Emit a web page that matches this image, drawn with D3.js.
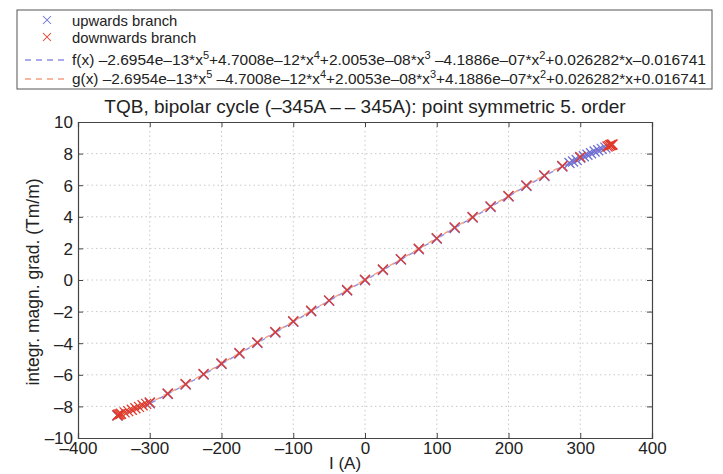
<!DOCTYPE html>
<html>
<head>
<meta charset="utf-8">
<script src="https://cdn.jsdelivr.net/npm/d3@7"></script>
<style>
  body { margin: 0; background: #fff; }
  svg { font-family: "Liberation Sans", Arial, sans-serif; }
  .grid line { stroke: #c8c8c8; stroke-dasharray: 1.5,3; }
</style>
</head>
<body>
<script>
// tick values
var xTicks = [-400, -300, -200, -100, 0, 100, 200, 300, 400];
var yTicks = [-10, -8, -6, -4, -2, 0, 2, 4, 6, 8, 10];

// upwards branch
var upX = [-345, -300, -275, -250, -225, -200, -175, -150, -125, -100, -75, -50, -25, 0,
           25, 50, 75, 100, 125, 150, 175, 200, 225, 250, 275, 285, 290, 295, 300, 305,
           310, 315, 320, 325, 330, 335];
var upY = [-8.58, -7.81, -7.22, -6.62, -5.99, -5.32, -4.66, -3.99, -3.33, -2.65, -1.98, -1.32, -0.66, -0.02,
           0.63, 1.29, 1.95, 2.61, 3.29, 3.95, 4.62, 5.29, 5.95, 6.58, 7.18, 7.40, 7.50, 7.60, 7.74, 7.83,
           7.93, 8.02, 8.13, 8.21, 8.30, 8.38];

// downwards branch
var downX = [345, 344, 343, 342, 340, 338, 300, 275, 250, 225, 200, 175, 150, 125, 100, 75, 50, 25, 0,
             -25, -50, -75, -100, -125, -150, -175, -200, -225, -250, -275, -300, -305, -310, -315,
             -320, -325, -330, -335, -340, -342, -344, -345];
var downY = [8.58, 8.56, 8.55, 8.53, 8.49, 8.45, 7.79, 7.22, 6.62, 5.99, 5.32, 4.66, 3.99, 3.33, 2.65, 1.98, 1.32, 0.66, 0.02,
             -0.63, -1.29, -1.95, -2.61, -3.29, -3.95, -4.62, -5.29, -5.95, -6.58, -7.18, -7.75, -7.84,
             -7.93, -8.03, -8.12, -8.21, -8.30, -8.38, -8.47, -8.50, -8.53, -8.56];

var width = 723, height = 474;
var margin = {top: 122, right: 71, bottom: 36, left: 78};
var w = width - margin.left - margin.right,
    h = height - margin.top - margin.bottom;

var blue = "#6f6fd4", red = "#e03a2c", fBlue = "#8d8de6", gOrange = "#f4a07f";

var svg = d3.select("body").append("svg")
    .attr("width", width)
    .attr("height", height);

var x = d3.scaleLinear().domain([-400, 400]).range([0, w]);
var y = d3.scaleLinear().domain([-10, 10]).range([h, 0]);

var g = svg.append("g")
    .attr("transform", "translate(" + margin.left + "," + margin.top + ")");

// dotted grid
var grid = g.append("g").attr("class", "grid");
grid.selectAll(".gx").data(xTicks.slice(1, -1)).enter().append("line")
    .attr("x1", x).attr("x2", x).attr("y1", 0).attr("y2", h);
grid.selectAll(".gy").data(yTicks.slice(1, -1)).enter().append("line")
    .attr("y1", y).attr("y2", y).attr("x1", 0).attr("x2", w);

function fmt(d) { return d < 0 ? "\u2013" + Math.abs(d) : String(d); }

// axes with inward ticks on all four sides
var axB = g.append("g").attr("transform", "translate(0," + h + ")")
    .call(d3.axisBottom(x).tickValues(xTicks).tickSize(-5).tickPadding(8).tickFormat(fmt));
var axT = g.append("g")
    .call(d3.axisTop(x).tickValues(xTicks).tickSize(-5).tickFormat(""));
var axL = g.append("g")
    .call(d3.axisLeft(y).tickValues(yTicks).tickSize(-5).tickPadding(5).tickFormat(fmt));
var axR = g.append("g").attr("transform", "translate(" + w + ",0)")
    .call(d3.axisRight(y).tickValues(yTicks).tickSize(-5).tickFormat(""));

[axB, axT, axL, axR].forEach(function(a) {
  a.select(".domain").attr("stroke", "#444").attr("stroke-width", 1.2);
  a.selectAll(".tick line").attr("stroke", "#444");
  a.selectAll("text").attr("font-size", 17).attr("fill", "#222")
    .attr("font-family", "Liberation Sans, Arial, sans-serif");
});
axB.selectAll("text").attr("dy", "0.45em");
axL.selectAll("text").attr("dy", "0.35em");

// fit lines through the branches
var upPts = upX.map(function(v, i) { return [v, upY[i]]; }).sort(function(a, b) { return a[0] - b[0]; });
var downPts = downX.map(function(v, i) { return [v, downY[i]]; }).sort(function(a, b) { return a[0] - b[0]; });

var line = d3.line()
    .x(function(d) { return x(d[0]); })
    .y(function(d) { return y(d[1]); })
    .curve(d3.curveMonotoneX);

g.append("path").datum(upPts)
    .attr("d", line).attr("fill", "none")
    .attr("stroke", fBlue).attr("stroke-width", 1.4).attr("stroke-dasharray", "5,4");
g.append("path").datum(downPts)
    .attr("d", line).attr("fill", "none")
    .attr("stroke", gOrange).attr("stroke-width", 1.4).attr("stroke-dasharray", "5,4")
    .attr("stroke-dashoffset", 4);

// x-shaped markers
function cross(sel, color) {
  var s = 5;
  sel.append("path")
    .attr("d", "M" + (-s) + "," + (-s) + "L" + s + "," + s + "M" + (-s) + "," + s + "L" + s + "," + (-s))
    .attr("stroke", color).attr("stroke-width", 1.3).attr("fill", "none");
}

var upG = g.append("g").selectAll("g").data(upPts).enter().append("g")
    .attr("transform", function(d) { return "translate(" + x(d[0]) + "," + y(d[1]) + ")"; });
cross(upG, blue);

var downG = g.append("g").selectAll("g").data(downPts).enter().append("g")
    .attr("transform", function(d) { return "translate(" + x(d[0]) + "," + y(d[1]) + ")"; });
cross(downG, red);

// title and axis labels
svg.append("text")
    .attr("x", margin.left + w / 2).attr("y", 113)
    .attr("text-anchor", "middle").attr("font-size", 19).attr("fill", "#222")
    .text("TQB, bipolar cycle (\u2013345A \u2013\u2009\u2013 345A): point symmetric 5. order");

svg.append("text")
    .attr("x", margin.left + x(0) - 20).attr("y", 469)
    .attr("text-anchor", "middle").attr("font-size", 17).attr("fill", "#222")
    .text("I (A)");

svg.append("text")
    .attr("transform", "translate(39," + (margin.top + h / 2 + 2) + ") rotate(-90)")
    .attr("text-anchor", "middle").attr("font-size", 17.5).attr("fill", "#222")
    .text("integr. magn. grad. (Tm/m)");

// legend
var leg = svg.append("g");
leg.append("rect")
    .attr("x", 17).attr("y", 10).attr("width", 695).attr("height", 79)
    .attr("fill", "#fff").attr("stroke", "#555").attr("stroke-width", 1);

var legMark = [{c: blue, y: 20, t: "upwards branch"}, {c: red, y: 37, t: "downwards branch"}];
legMark.forEach(function(d) {
  var m = leg.append("g").attr("transform", "translate(47," + d.y + ") scale(0.8)");
  cross(m, d.c);
  leg.append("text").attr("x", 72).attr("y", d.y + 6)
    .attr("font-size", 14.8).attr("fill", "#222").text(d.t);
});

var legFit = [
  {c: fBlue, y: 60, parts: ["f(x) \u20132.6954e\u201313*x", "5", "+4.7008e\u201312*x", "4", "+2.0053e\u201308*x", "3",
    " \u20134.1886e\u201307*x", "2", "+0.026282*x\u20130.016741"]},
  {c: gOrange, y: 79, parts: ["g(x) \u20132.6954e\u201313*x", "5", " \u20134.7008e\u201312*x", "4", "+2.0053e\u201308*x", "3",
    "+4.1886e\u201307*x", "2", "+0.026282*x+0.016741"]}
];
legFit.forEach(function(d) {
  leg.append("line").attr("x1", 25).attr("x2", 65).attr("y1", d.y).attr("y2", d.y)
    .attr("stroke", d.c).attr("stroke-width", 1.4).attr("stroke-dasharray", "6,5");
  var t = leg.append("text").attr("x", 72).attr("y", d.y + 5)
    .attr("font-size", 14).attr("fill", "#222")
    .attr("textLength", 634).attr("lengthAdjust", "spacingAndGlyphs");
  d.parts.forEach(function(p, i) {
    var sup = i % 2 === 1;
    t.append("tspan")
      .attr("font-size", sup ? 10 : 14)
      .attr("dy", sup ? -6 : (i > 0 ? 6 : 0))
      .text(p);
  });
});
</script>
</body>
</html>
